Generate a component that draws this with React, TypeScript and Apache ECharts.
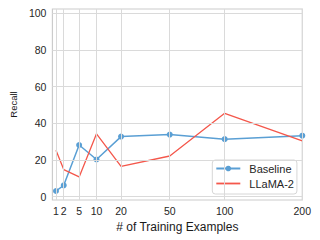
import React, { useEffect, useRef } from "react";
import * as echarts from "echarts";

const trainingExamples = [1, 2, 5, 10, 20, 50, 100, 200];
const baselineRecall = [3.1, 6.2, 28.2, 20.3, 32.8, 33.9, 31.4, 33.3];
const llamaRecall = [25.4, 14.8, 10.8, 34.3, 16.6, 22.2, 45.5, 30.4];
const yTicks = [0, 20, 40, 60, 80, 100];
const seriesNames = ["Baseline", "LLaMA-2"];

const FONT = "Liberation Sans, Arial, Helvetica, sans-serif";
const GRID_COLOR = "#dadada";

export default function App() {
  const ref = useRef<HTMLDivElement>(null);
  useEffect(() => {
    if (!ref.current) return;
    const chart = echarts.init(ref.current, undefined, { renderer: "svg" });
    const xVals = trainingExamples.map((n) => Math.sqrt(n));
    const option: any = {
      animation: false,
      backgroundColor: "#ffffff",
      textStyle: { fontFamily: FONT },
      grid: {
        left: 45.7,
        right: 17.7,
        top: 9,
        bottom: 40,
        show: true,
        borderColor: "#cccccc",
        borderWidth: 1.2,
        backgroundColor: "transparent",
      },
      xAxis: {
        type: "value",
        min: 0.81,
        max: Math.sqrt(200),
        axisLine: { show: false },
        axisTick: { show: false },
        splitLine: { show: false },
        axisLabel: {
          customValues: xVals,
          formatter: (v: number) => String(Math.round(v * v)),
          color: "#262626",
          fontSize: 10.5,
          fontFamily: FONT,
          margin: 5,
          hideOverlap: false,
        },
        name: "# of Training Examples",
        nameLocation: "middle",
        nameGap: 18,
        nameTextStyle: { fontSize: 12, color: "#1a1a1a", fontFamily: FONT },
      },
      yAxis: {
        type: "value",
        min: -1.8,
        max: 102.4,
        axisLine: { show: false },
        axisTick: { show: false },
        splitLine: { show: false },
        axisLabel: {
          customValues: yTicks,
          color: "#262626",
          fontSize: 10.5,
          fontFamily: FONT,
          margin: 6,
        },
        name: "Recall",
        nameLocation: "middle",
        nameRotate: 90,
        nameGap: 27,
        nameTextStyle: { fontSize: 9.5, color: "#1a1a1a", fontFamily: FONT },
      },
      legend: {
        data: [
          { name: seriesNames[0] },
          { name: seriesNames[1], icon: "path://M0,0L24,0L24,1.8L0,1.8Z" },
        ],
        orient: "vertical",
        left: 212.3,
        top: 160,
        itemWidth: 24,
        itemHeight: 7,
        itemGap: 3,
        padding: [2.5, 3, 4.5, 3],
        symbolKeepAspect: true,
        borderColor: "#d6d6d6",
        borderWidth: 1,
        borderRadius: 3,
        backgroundColor: "rgba(255,255,255,0.85)",
        textStyle: {
          fontSize: 11,
          color: "#262626",
          fontFamily: FONT,
          lineHeight: 12,
          padding: [0, 0, 0, 4],
        },
      },
      series: [
        {
          type: "line",
          data: [],
          silent: true,
          z: 0,
          markLine: {
            silent: true,
            symbol: ["none", "none"],
            label: { show: false },
            lineStyle: { color: GRID_COLOR, width: 1, type: "solid" },
            emphasis: { disabled: true },
            data: [
              ...xVals.map((x) => ({ xAxis: x })),
              ...yTicks.map((y) => ({ yAxis: y })),
            ],
          },
        },
        {
          name: seriesNames[0],
          type: "line",
          z: 3,
          data: trainingExamples.map((n, i) => [Math.sqrt(n), baselineRecall[i]]),
          symbol: "circle",
          symbolSize: 6,
          showSymbol: true,
          lineStyle: { color: "#5a9fd4", width: 1.5 },
          itemStyle: { color: "#5a9fd4" },
          emphasis: { disabled: true },
        },
        {
          name: seriesNames[1],
          type: "line",
          z: 3,
          data: trainingExamples.map((n, i) => [Math.sqrt(n), llamaRecall[i]]),
          symbol: "none",
          lineStyle: { color: "#f4574b", width: 1.3 },
          itemStyle: { color: "#f4574b" },
          emphasis: { disabled: true },
        },
      ],
    };
    chart.setOption(option);
    return () => chart.dispose();
  }, []);
  return (
    <div
      ref={ref}
      style={{ position: "fixed", left: 0, top: 0, width: 320, height: 240, background: "#fff" }}
    />
  );
}
